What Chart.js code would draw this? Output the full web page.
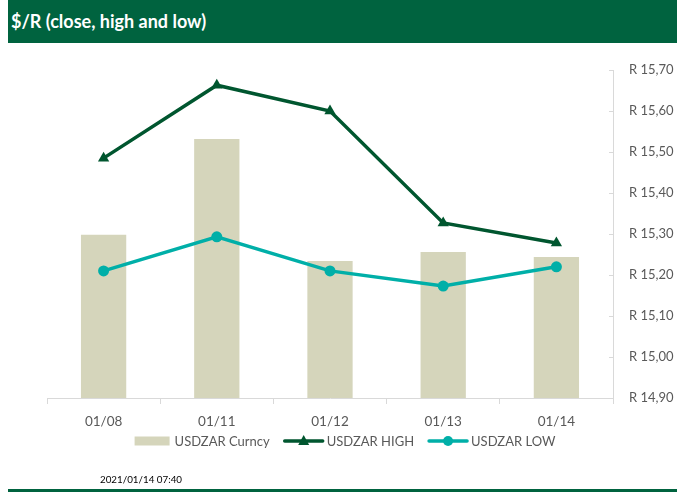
<!DOCTYPE html>
<html>
<head>
<meta charset="utf-8">
<script src="https://cdn.jsdelivr.net/npm/chart.js@4/dist/chart.umd.min.js"></script>
<style>
  html, body { margin: 0; padding: 0; background: #ffffff; }
  #wrap { position: relative; width: 677px; height: 492px; overflow: hidden; }
  #title { position: absolute; left: 8px; top: 0; width: 669px; height: 43px; background: #00633F; color: #ffffff;
           font: bold 18px Lato, "Liberation Sans", sans-serif; line-height: 43px; padding-left: 3px; box-sizing: border-box; z-index: 2; }
  #stamp { position: absolute; left: 100px; top: 473px; font: 9.8px Lato, "Liberation Sans", sans-serif; color: #000; z-index: 2; }
  #rule { position: absolute; left: 8px; top: 489px; width: 669px; height: 3px; background: #00633F; z-index: 2; }
  canvas { position: absolute; left: 0; top: 0; }
</style>
</head>
<body>
<div id="wrap">
  <div id="title">$/R (close, high and low)</div>
  <canvas id="c" width="677" height="492"></canvas>
  <div id="stamp">2021/01/14 07:40</div>
  <div id="rule"></div>
</div>
<script>
const categories = ['01/08', '01/11', '01/12', '01/13', '01/14'];
const closeValues = [15.298, 15.532, 15.234, 15.256, 15.244];
const highValues = [15.485, 15.663, 15.600, 15.327, 15.278];
const lowValues = [15.210, 15.293, 15.210, 15.173, 15.220];
const yTicks = [14.9, 15.0, 15.1, 15.2, 15.3, 15.4, 15.5, 15.6, 15.7];
const seriesNames = ['USDZAR Curncy', 'USDZAR HIGH', 'USDZAR LOW'];

const BAR = '#D5D5BB', HIGH = '#00562F', LOW = '#00AFA8', GRID = '#D9D9D9', TXT = '#595959';
const FONT = 'Lato, "Liberation Sans", sans-serif';

const extras = {
  id: 'extras',
  afterDraw(chart) {
    const ctx = chart.ctx;
    const y = chart.scales.y, a = chart.chartArea;
    ctx.save();
    // inward tick marks on right axis
    ctx.strokeStyle = GRID; ctx.lineWidth = 1;
    y.ticks.forEach(t => {
      const py = Math.round(y.getPixelForValue(t.value)) + 0.5;
      ctx.beginPath(); ctx.moveTo(a.right - 4, py); ctx.lineTo(a.right, py); ctx.stroke();
    });
    // legend
    ctx.font = '13px ' + FONT;
    ctx.textBaseline = 'middle';
    const ly = 441;
    const ds = chart.data.datasets;
    const items = ds.map((d, i) => ({ d, sw: i === 0 ? 35 : 40, gap: i === 0 ? 5 : 3, tw: ctx.measureText(d.label).width }));
    const spacing = 14;
    let total = items.reduce((s, it) => s + it.sw + it.gap + it.tw, 0) + spacing * (items.length - 1);
    let x = 345 - total / 2;
    items.forEach((it, i) => {
      const d = it.d;
      if (i === 0) {
        ctx.fillStyle = d.backgroundColor;
        ctx.fillRect(x, ly - 4.5, it.sw, 9);
      } else {
        ctx.strokeStyle = d.borderColor; ctx.lineWidth = 3.5; ctx.lineCap = 'round';
        ctx.beginPath(); ctx.moveTo(x + 1, ly); ctx.lineTo(x + it.sw - 1, ly); ctx.stroke();
        ctx.fillStyle = d.pointBackgroundColor;
        const cx = x + it.sw / 2;
        if (d.pointStyle === 'triangle') {
          ctx.beginPath(); ctx.moveTo(cx, ly - 6); ctx.lineTo(cx + 5.5, ly + 4); ctx.lineTo(cx - 5.5, ly + 4); ctx.closePath(); ctx.fill();
        } else {
          ctx.beginPath(); ctx.arc(cx, ly, 5, 0, Math.PI * 2); ctx.fill();
        }
      }
      x += it.sw + it.gap;
      ctx.fillStyle = TXT;
      ctx.fillText(d.label, x, ly + 1);
      x += it.tw + spacing;
    });
    ctx.restore();
  }
};

new Chart(document.getElementById('c'), {
  data: {
    labels: categories,
    datasets: [
      { type: 'bar', label: seriesNames[0], data: closeValues, backgroundColor: BAR, order: 3,
        barPercentage: 0.4, categoryPercentage: 1.0 },
      { type: 'line', label: seriesNames[1], data: highValues, borderColor: HIGH, backgroundColor: HIGH,
        pointBackgroundColor: HIGH, pointBorderColor: HIGH, borderWidth: 3.5, pointStyle: 'triangle',
        pointRadius: 6.5, pointBorderWidth: 0, tension: 0, order: 1 },
      { type: 'line', label: seriesNames[2], data: lowValues, borderColor: LOW, backgroundColor: LOW,
        pointBackgroundColor: LOW, pointBorderColor: LOW, borderWidth: 3.5, pointStyle: 'circle',
        pointRadius: 5.5, pointBorderWidth: 0, tension: 0, order: 2 }
    ]
  },
  options: {
    responsive: false,
    animation: false,
    layout: { padding: { left: 47, top: 70, right: 0, bottom: 54 } },
    plugins: { legend: { display: false }, tooltip: { enabled: false }, title: { display: false } },
    scales: {
      x: {
        offset: true,
        grid: { display: true, offset: true, drawOnChartArea: false, drawTicks: true, tickLength: 6, color: GRID },
        border: { display: true, color: GRID, width: 1 },
        ticks: { color: TXT, font: { family: FONT, size: 13.5 }, padding: 10, maxRotation: 0 },
        afterFit(s) { s.height = 40; }
      },
      y: {
        position: 'right',
        min: 14.9, max: 15.7,
        afterBuildTicks(s) { s.ticks = yTicks.map(v => ({ value: v })); },
        grid: { display: false, drawTicks: false },
        border: { display: true, color: GRID, width: 1 },
        ticks: {
          color: TXT, font: { family: FONT, size: 13 }, padding: 16,
          callback: v => 'R ' + Number(v).toFixed(2).replace('.', ',')
        },
        afterFit(s) { s.width = 64; }
      }
    }
  },
  plugins: [extras]
});
</script>
</body>
</html>
